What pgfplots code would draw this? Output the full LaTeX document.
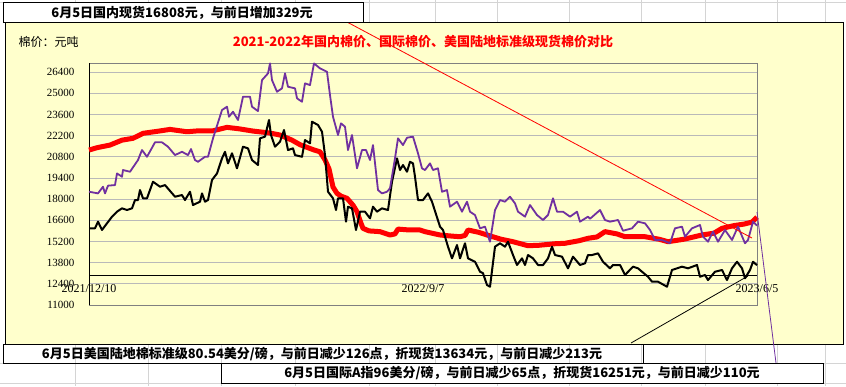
\documentclass[border=0pt]{standalone}
\usepackage{fontspec}
\setmainfont{Liberation Serif}
\newfontfamily\cjk{Noto Sans CJK SC}
\usepackage{pgfplots}
\pgfplotsset{compat=1.18}
\definecolor{chartbg}{HTML}{FFFFCC}
\definecolor{mypurple}{HTML}{7030A0}
\definecolor{cellgrid}{HTML}{D4D4D4}
\begin{document}
\begin{tikzpicture}[x=1pt,y=-1pt]
\useasboundingbox (0,0) rectangle (846,386);
\fill[white] (0,0) rectangle (846,386);
% spreadsheet cell lines
\foreach \yy in {2,363,383} \draw[cellgrid,line width=0.6pt] (0,\yy) -- (846,\yy);
\foreach \xx in {75,148,221,295,369,435,497,569,641,705,777,825} {\draw[cellgrid,line width=0.6pt] (\xx,0) -- (\xx,22); \draw[cellgrid,line width=0.6pt] (\xx,344) -- (\xx,386);}
% chart area
\filldraw[fill=chartbg, draw=black, line width=1pt] (5,22) rectangle (843,344);
\begin{axis}[
  at={(89pt,-305pt)}, anchor=south west,
  scale only axis, width=668pt, height=242pt,
  xmin=0, xmax=668, ymin=11000, ymax=27000,
  axis line style={draw=gray, line width=0.8pt},
  ytick={11000,12400,13800,15200,16600,18000,19400,20800,22200,23600,25000,26400},
  scaled y ticks=false,
  /pgf/number format/assume math mode=true,
  yticklabel style={font=\fontsize{11}{11}\selectfont, /pgf/number format/1000 sep={}, /pgf/number format/fixed, anchor=east, xshift=-11pt},
  ymajorgrids, grid style={gray!55, line width=0.7pt},
  major tick length=0,
  xtick={0,334,668}, xticklabels={2021/12/10,2022/9/7,2023/6/5},
  xticklabel style={font=\fontsize{12}{12}\selectfont, anchor=center, yshift=16pt},
  clip=false,
]
\draw[black, line width=1pt] (axis cs:0,11000) -- (axis cs:0,27000);
\draw[black, line width=1pt] (axis cs:0,12950) -- (axis cs:668,12950);
% domestic spot (red)
\addplot[red, line width=5pt, line join=round, no marks] coordinates {
(0,21245)(8,21400)(21,21575)(33,21900)(44,22020)(54,22350)(70,22500)(81,22610)(98,22455)(110,22520)(124,22520)(138,22745)(150,22650)(164,22500)(180,22380)(191,22240)(203,21900)(211,21600)(225,21250)(231,21130)(236,20600)(240,20000)(244,18800)(248,18380)(252,18200)(258,18055)(264,17600)(268,17170)(272,16400)(274,16070)(280,15900)(291,15850)(301,15630)(306,15700)(309,16020)(320,15960)(331,15960)(336,15850)(351,15630)(362,15560)(371,15515)(376,15600)(379,15960)(390,15800)(398,15630)(412,15350)(424,15185)(439,14920)(450,14950)(466,15050)(476,15080)(490,15250)(499,15410)(508,15500)(516,15850)(528,15700)(536,15515)(556,15515)(570,15350)(579,15185)(595,15350)(613,15630)(625,15750)(633,16070)(645,16250)(655,16350)(663,16480)(668,16808)
};
% US upland (black)
\addplot[black, line width=2pt, line join=round, no marks] coordinates {
(0,16070)(6,16070)(9,16510)(13,15960)(18,16400)(23,16840)(28,17170)(33,17390)(38,17280)(43,17390)(46,17940)(49,17940)(51,18600)(54,18055)(58,18055)(64,19150)(71,18820)(76,18930)(86,18160)(93,18270)(96,17940)(101,18490)(104,17610)(111,17830)(113,18380)(116,17830)(119,17940)(123,19260)(128,19700)(133,20695)(136,21130)(139,20365)(143,21030)(148,20035)(154,21465)(159,21355)(163,20585)(169,20255)(171,22020)(176,22130)(180,23230)(182,22240)(186,21465)(191,21800)(195,22570)(198,21575)(199,21245)(204,21355)(206,20915)(213,20800)(216,21905)(221,21690)(223,23120)(229,22900)(233,22455)(236,20915)(239,18490)(244,18055)(247,17280)(249,18055)(254,18055)(257,16510)(259,17500)(263,17390)(267,15960)(271,17170)(276,17170)(281,16730)(284,17500)(288,17170)(293,17390)(299,17280)(303,19150)(308,20695)(311,19925)(314,20255)(318,19810)(321,20470)(324,20365)(326,19480)(329,17940)(334,17940)(339,18380)(343,17830)(351,16180)(354,15960)(359,14855)(363,14085)(368,14965)(371,14085)(376,15080)(379,14085)(386,13860)(391,13200)(394,13100)(398,12320)(401,12210)(406,14855)(411,15080)(416,14855)(419,15185)(424,14305)(428,13645)(433,14085)(436,13645)(439,14305)(444,14085)(449,13645)(454,13645)(459,14085)(463,14855)(466,14305)(473,14195)(479,13425)(484,14195)(491,13645)(496,13755)(499,14305)(503,14305)(509,14415)(514,13860)(521,13425)(524,13645)(531,13645)(536,12985)(544,13535)(549,13425)(553,13200)(559,12870)(563,12540)(569,12540)(578,12210)(583,13315)(593,13535)(599,13425)(608,13645)(611,12870)(616,12985)(619,12650)(626,13200)(633,13315)(638,12650)(643,13425)(648,13860)(653,13425)(656,12765)(661,13315)(664,13860)(668,13634)
};
% international A index (purple)
\addplot[mypurple, line width=1.8pt, line join=round, no marks] coordinates {
(0,18490)(9,18380)(14,18820)(16,18380)(19,18890)(26,18930)(28,19700)(33,19480)(34,19925)(41,19810)(49,20585)(53,21245)(58,20800)(66,21755)(73,21755)(79,21465)(86,20915)(93,21130)(99,20915)(102,21310)(106,20585)(109,20470)(116,20800)(119,20800)(124,22020)(133,23890)(138,24110)(140,23450)(144,23780)(149,23230)(154,24770)(161,24770)(163,24110)(169,23820)(173,25870)(179,26315)(181,26975)(183,25870)(188,25100)(193,25325)(196,26315)(199,25430)(206,25325)(208,24665)(213,24440)(216,25655)(221,25540)(225,26975)(231,26645)(238,26420)(241,24880)(244,23450)(249,22240)(252,23010)(256,22790)(259,21245)(263,22240)(268,20035)(273,21245)(277,21245)(281,20585)(284,21575)(289,18600)(293,18380)(298,18490)(301,18710)(306,20695)(309,22020)(314,21575)(318,22060)(324,22130)(329,21030)(333,20035)(336,19925)(341,20365)(344,19925)(349,20035)(353,18490)(358,18600)(361,17500)(368,17830)(373,17170)(378,17830)(381,17170)(386,16950)(391,16070)(396,16180)(401,15185)(406,17280)(411,17940)(416,17830)(421,18160)(426,17720)(429,17170)(436,16840)(441,17610)(448,16950)(454,16620)(459,16950)(464,18055)(468,17170)(474,17170)(481,16840)(488,17170)(491,16510)(499,16840)(501,16700)(511,17280)(516,16620)(521,16510)(529,16620)(534,15910)(543,16070)(549,16510)(556,16400)(561,15960)(566,15300)(573,15300)(581,15080)(586,16070)(593,16180)(596,15515)(603,16070)(611,16290)(614,15515)(619,15185)(624,15850)(629,15185)(636,15960)(643,15300)(649,16180)(656,15080)(659,15300)(664,16510)(668,16251)
};
\end{axis}
% texts
\node[font=\cjk\fontsize{12}{12}\selectfont, anchor=west] at (15,42) {棉价：元吨};
\node[font=\cjk\bfseries\fontsize{13}{13}\selectfont, text=red] at (423,42) {2021-2022年国内棉价、国际棉价、美国陆地标准级现货棉价对比};
% callout lines
\draw[red, line width=0.8pt] (347,22) -- (752,238);
\draw[black, line width=0.8pt] (631,343) -- (748,276);
\draw[mypurple, line width=0.8pt] (757,212) -- (776,363);
% boxes
\filldraw[fill=white, draw=black, line width=1pt] (3,2) rectangle (363,22);
\node[font=\cjk\bfseries\fontsize{13}{13}\selectfont] at (182,13) {6月5日国内现货16808元，与前日增加329元};
\draw[black, line width=1pt] (3,344) rectangle (643,363);
\node[font=\cjk\bfseries\fontsize{13}{13}\selectfont] at (322,354) {6月5日美国陆地棉标准级80.54美分/磅，与前日减少126点，折现货13634元，与前日减少213元};
\filldraw[fill=white, draw=black, line width=1pt] (221,363) rectangle (823,383);
\node[font=\cjk\bfseries\fontsize{13}{13}\selectfont] at (522,373) {6月5日国际A指96美分/磅，与前日减少65点，折现货16251元，与前日减少110元};
\end{tikzpicture}
\end{document}
